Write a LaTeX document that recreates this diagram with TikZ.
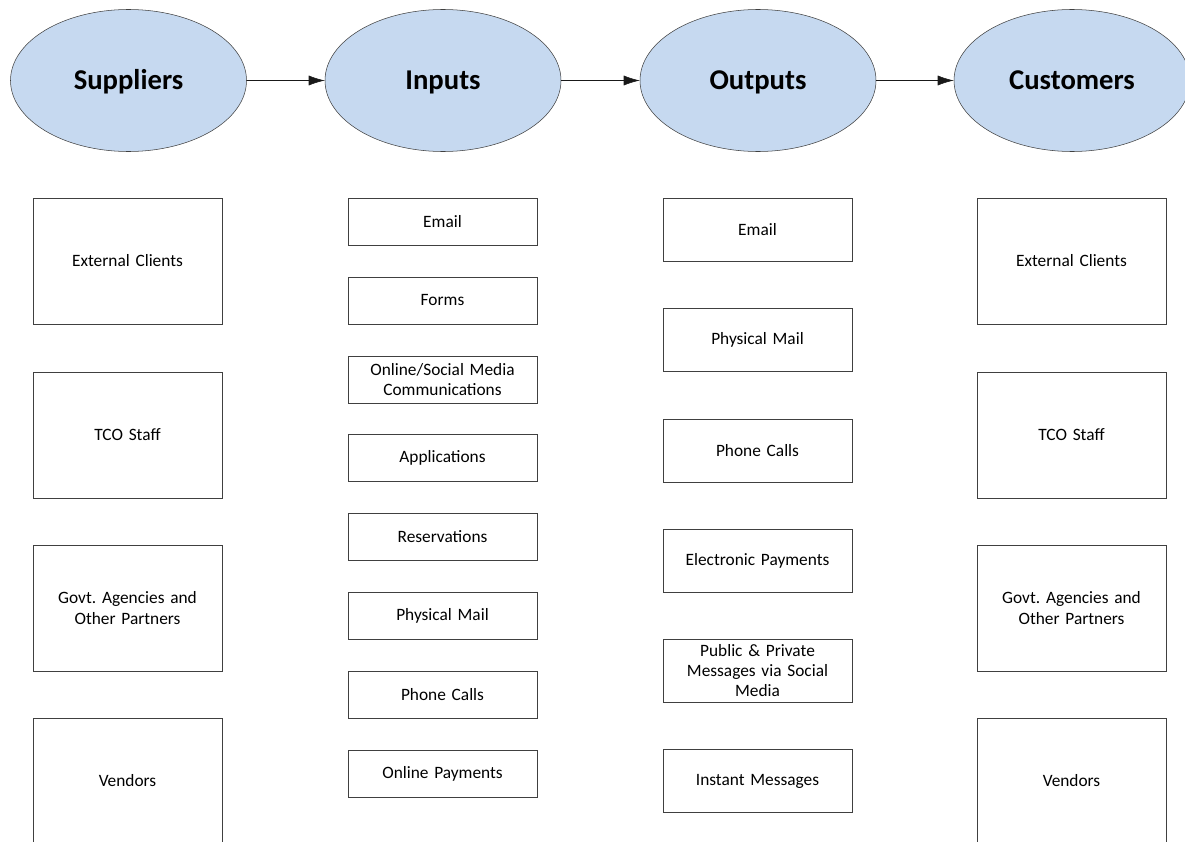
\documentclass[tikz,border=0pt]{standalone}
\usepackage{fontspec}
\setmainfont{Carlito}
\usepackage{tikz}
\usetikzlibrary{arrows.meta,shapes.geometric}
\definecolor{stageblue}{RGB}{198,217,240}
\definecolor{edgegrey}{RGB}{64,64,64}
\frenchspacing

\tikzset{
    stage/.style={
        ellipse,
        draw=edgegrey,
        fill=stageblue,
        minimum width=177pt,
        minimum height=106.5pt,
        text height=13.85pt,
        text depth=0pt,
        font=\fontsize{21.5}{25}\selectfont\bfseries
    },
    itembox/.style={
        rectangle,
        draw=edgegrey,
        text width=135pt,
        align=center,
        minimum width=141.75pt,
        inner sep=2pt,
        font=\fontsize{13}{15.2}\selectfont
    },
    bigbox/.style={itembox, minimum height=94.5pt},
    smallbox/.style={itembox, minimum height=35.25pt},
    midbox/.style={itembox, minimum height=47.25pt}
}

\begin{document}
\begin{tikzpicture}[x=0.75pt, y=-0.75pt, >={Latex[length=12pt,width=7.5pt]}]

\clip (0,0) rectangle (1185,842);

% Etapes
\node[stage] (suppliers) at (128.5,80.5) {Suppliers};
\node[stage] (inputs)    at (443,80.5)   {Inputs};
\node[stage] (outputs)   at (758,80.5)   {Outputs};
\node[stage] (customers) at (1072,80.5)  {Customers};

% Fletxes
\draw[->, edgegrey!40!black] (suppliers) -- (inputs);
\draw[->, edgegrey!40!black] (inputs) -- (outputs);
\draw[->, edgegrey!40!black] (outputs) -- (customers);

% Proveidors
\node[bigbox] (supExt)  at (127.5,261) {External Clients};
\node[bigbox] (supTco)  at (127.5,435) {TCO Staff};
\node[bigbox] (supGov)  at (127.5,608) {Govt. Agencies and\\Other Partners};
\node[bigbox] (supVend) at (127.5,781) {Vendors};

% Entrades
\node[smallbox] (inEmail) at (442.5,222)   {Email};
\node[smallbox] (inForms) at (442.5,300.5) {Forms};
\node[smallbox] (inSoc)   at (442.5,379.5) {Online/Social Media\\Communications};
\node[smallbox] (inApp)   at (442.5,458)   {Applications};
\node[smallbox] (inRes)   at (442.5,537)   {Reservations};
\node[smallbox] (inMail)  at (442.5,616)   {Physical Mail};
\node[smallbox] (inPhone) at (442.5,694.5) {Phone Calls};
\node[smallbox] (inPay)   at (442.5,773.5) {Online Payments};

% Sortides
\node[midbox] (outEmail) at (757.5,230)   {Email};
\node[midbox] (outMail)  at (757.5,340)   {Physical Mail};
\node[midbox] (outPhone) at (757.5,450.5) {Phone Calls};
\node[midbox] (outPay)   at (757.5,560.5) {Electronic Payments};
\node[midbox] (outSoc)   at (757.5,670.5) {Public \& Private\\Messages via Social\\Media};
\node[midbox] (outIm)    at (757.5,781)   {Instant Messages};

% Clients
\node[bigbox] (cusExt)  at (1071.5,261) {External Clients};
\node[bigbox] (cusTco)  at (1071.5,435) {TCO Staff};
\node[bigbox] (cusGov)  at (1071.5,608) {Govt. Agencies and\\Other Partners};
\node[bigbox] (cusVend) at (1071.5,781) {Vendors};

\end{tikzpicture}
\end{document}
